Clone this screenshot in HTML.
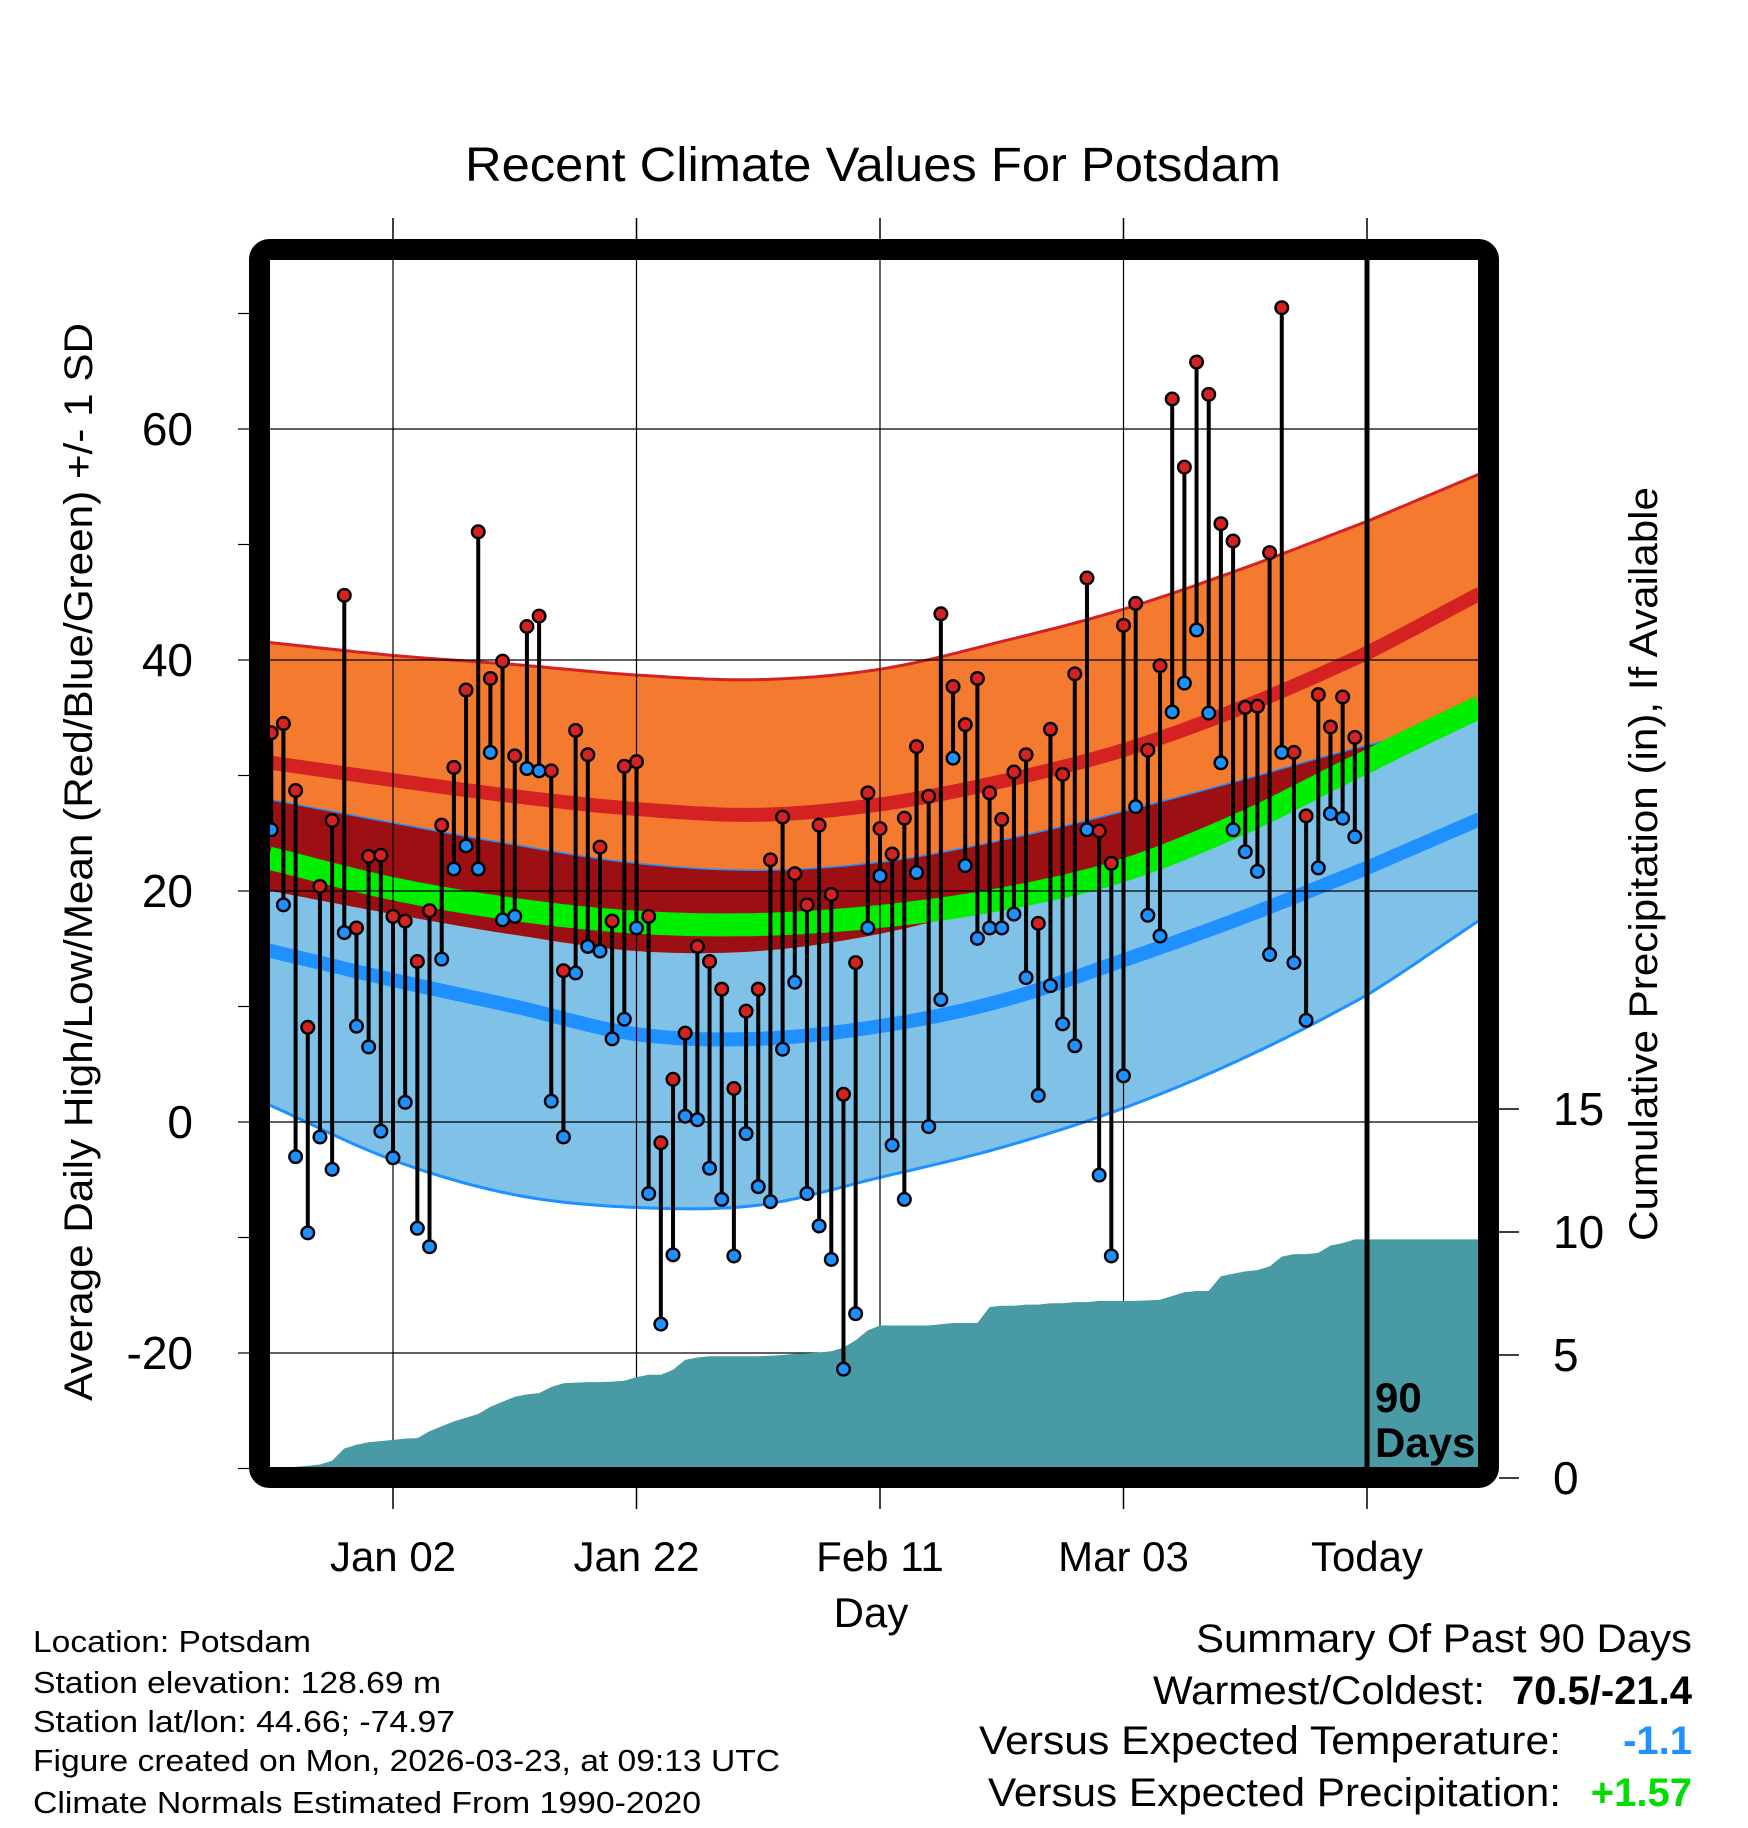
<!DOCTYPE html>
<html><head><meta charset="utf-8"><style>
html,body{margin:0;padding:0;background:#fff}
svg{display:block}
text{font-family:"Liberation Sans",sans-serif;fill:#000}
</style></head><body>
<svg id="chart" width="1748" height="1828" viewBox="0 0 1748 1828" xmlns="http://www.w3.org/2000/svg">
<defs><clipPath id="plotclip"><rect x="270" y="260" width="1208" height="1207"/></clipPath></defs>
<rect width="1748" height="1828" fill="#fff"/>
<text x="873" y="181" font-size="48" text-anchor="middle" textLength="816" lengthAdjust="spacingAndGlyphs">Recent Climate Values For Potsdam</text>
<g id="bands" clip-path="url(#plotclip)"></g>
<g id="grid" clip-path="url(#plotclip)"></g>
<g id="precip" clip-path="url(#plotclip)"></g>
<g id="marks" clip-path="url(#plotclip)"></g>
<g id="axes"></g>
<rect x="259.5" y="249.5" width="1229" height="1228" rx="10" fill="none" stroke="#000" stroke-width="21"/>
<text x="1375" y="1412" font-size="42" font-weight="bold">90</text>
<text x="1375" y="1457" font-size="42" font-weight="bold">Days</text>
<text x="871" y="1627" font-size="42" text-anchor="middle">Day</text>
<text transform="translate(92,862) rotate(-90)" font-size="40" text-anchor="middle" textLength="1078" lengthAdjust="spacingAndGlyphs">Average Daily High/Low/Mean (Red/Blue/Green) +/- 1 SD</text>
<text transform="translate(1657,864) rotate(-90)" font-size="40" text-anchor="middle" textLength="754" lengthAdjust="spacingAndGlyphs">Cumulative Precipitation (in), If Available</text>
<g font-size="31">
<text x="33" y="1652" textLength="278" lengthAdjust="spacingAndGlyphs">Location: Potsdam</text>
<text x="33" y="1693" textLength="408" lengthAdjust="spacingAndGlyphs">Station elevation: 128.69 m</text>
<text x="33" y="1732" textLength="422" lengthAdjust="spacingAndGlyphs">Station lat/lon: 44.66; -74.97</text>
<text x="33" y="1771" textLength="747" lengthAdjust="spacingAndGlyphs">Figure created on Mon, 2026-03-23, at 09:13 UTC</text>
<text x="33" y="1813" textLength="668" lengthAdjust="spacingAndGlyphs">Climate Normals Estimated From 1990-2020</text>
</g>
<g font-size="40">
<text x="1692" y="1652" text-anchor="end" textLength="496" lengthAdjust="spacingAndGlyphs">Summary Of Past 90 Days</text>
<text x="1153" y="1704" textLength="332" lengthAdjust="spacingAndGlyphs">Warmest/Coldest:</text>
<text x="1692" y="1704" text-anchor="end" font-weight="bold">70.5/-21.4</text>
<text x="979" y="1754" textLength="582" lengthAdjust="spacingAndGlyphs">Versus Expected Temperature:</text>
<text x="1692" y="1754" text-anchor="end" font-weight="bold" style="fill:#1e90ff">-1.1</text>
<text x="988" y="1806" textLength="573" lengthAdjust="spacingAndGlyphs">Versus Expected Precipitation:</text>
<text x="1692" y="1806" text-anchor="end" font-weight="bold" style="fill:#00dd00">+1.57</text>
</g>
</svg>
<script>
// Daily observations (Dec 23 .. Mar 22)
const highs=[33.7,34.5,28.7,8.2,20.4,26.1,45.6,16.8,23.0,23.1,17.8,17.4,13.9,18.3,25.7,30.7,37.4,51.1,38.4,39.9,31.7,42.9,43.8,30.4,13.1,33.9,31.8,23.8,17.4,30.8,31.2,17.8,-1.8,3.7,7.7,15.2,13.9,11.5,2.9,9.6,11.5,22.7,26.4,21.5,18.8,25.7,19.7,2.4,13.8,28.5,25.4,23.2,26.3,32.5,28.2,44.0,37.7,34.4,38.4,28.5,26.2,30.3,31.8,17.2,34.0,30.1,38.8,47.1,25.2,22.4,43.0,44.9,32.2,39.5,62.6,56.7,65.8,63.0,51.8,50.3,35.9,36.0,49.3,70.5,32.0,26.5,37.0,34.2,36.8,33.3];
const lows=[25.3,18.8,-3.0,-9.6,-1.3,-4.1,16.4,8.3,6.5,-0.8,-3.1,1.7,-9.2,-10.8,14.1,21.9,23.9,21.9,32.0,17.5,17.8,30.6,30.4,1.8,-1.3,12.9,15.2,14.8,7.2,8.9,16.8,-6.2,-17.5,-11.5,0.5,0.2,-4.0,-6.7,-11.6,-1.0,-5.6,-6.9,6.3,12.1,-6.2,-9.0,-11.9,-21.4,-16.6,16.8,21.3,-2.0,-6.7,21.6,-0.4,10.6,31.5,22.2,15.9,16.8,16.8,18.0,12.5,2.3,11.8,8.5,6.6,25.3,-4.6,-11.6,4.0,27.3,17.9,16.1,35.5,38.0,42.6,35.4,31.1,25.3,23.4,21.7,14.5,32.0,13.8,8.8,22.0,26.7,26.3,24.7];
const precip=[0.35,0.4,0.45,0.5,0.55,0.7,1.2,1.35,1.45,1.5,1.55,1.6,1.62,1.9,2.1,2.3,2.45,2.6,2.9,3.1,3.3,3.4,3.45,3.7,3.85,3.88,3.9,3.9,3.92,3.95,4.1,4.2,4.2,4.4,4.8,4.9,4.95,4.95,4.95,4.95,4.95,4.97,5.0,5.05,5.07,5.1,5.15,5.3,5.6,6.0,6.2,6.2,6.2,6.2,6.2,6.25,6.3,6.3,6.3,6.95,7.0,7.0,7.05,7.05,7.1,7.1,7.15,7.15,7.2,7.2,7.2,7.2,7.22,7.25,7.4,7.55,7.6,7.6,8.2,8.3,8.4,8.45,8.6,9.0,9.1,9.1,9.15,9.45,9.55,9.7];
// Normals at node days (0,10,...,90,99)
const nodeDays=[0,10,20,30,40,50,60,70,80,90,99];
const highPlusSD=[41.5,40.4,39.6,38.7,38.3,39.2,41.6,44.4,48,52,56];
const highAvg=[31.1,29.6,28.2,27.1,26.6,27.5,29.5,32.2,36,40.6,45.6];
const highMinusSD=[20,18,16.2,14.8,14.8,16.3,19,22.5,26.2,30.5,35.5];
const lowPlusSD=[27.9,25.9,24,22.4,21.8,22.5,24.4,26.9,29.7,32.6,34.8];
const meanAvg=[22.8,20.2,18.4,17.3,17.1,17.8,19.3,21.8,26,31.2,35.8];
const lowAvg=[14.8,12.3,10,7.6,7.2,8.3,10.5,14,17.8,22,26.1];
const lowMinusSD=[1.4,-3.3,-6.3,-7.4,-7.2,-4.8,-2.2,1.2,5.6,11,17.3];
const xTickDays=[10,30,50,70,90];
const xTickLabels=["Jan 02","Jan 22","Feb 11","Mar 03","Today"];
const yTicks=[-30,-20,-10,0,10,20,30,40,50,60,70];
const yLabels=[-20,0,20,40,60];
const pTicks=[0,5,10,15];

const NS="http://www.w3.org/2000/svg";
const xOf=d=>271.25+d*12.175;
const yT=v=>1122-v*11.55;
const yP=p=>1478-p*24.6;
function mk(tag,attrs,parent){const e=document.createElementNS(NS,tag);for(const k in attrs)e.setAttribute(k,attrs[k]);parent.appendChild(e);return e;}
function interp(arr,d){
  let i=0;while(i<nodeDays.length-2&&d>nodeDays[i+1])i++;
  const d0=nodeDays[i],d1=nodeDays[i+1],t=(d-d0)/(d1-d0);
  const p1=arr[i],p2=arr[i+1],p0=i>0?arr[i-1]:2*p1-p2,p3=i+2<arr.length?arr[i+2]:2*p2-p1;
  const t2=t*t,t3=t2*t;
  return 0.5*((2*p1)+(-p0+p2)*t+(2*p0-5*p1+4*p2-p3)*t2+(-p0+3*p1-3*p2+p3)*t3);
}
const ds=[];for(let d=-0.2;d<=99.6;d+=0.5)ds.push(d);
const curve=arr=>ds.map(d=>[xOf(d),yT(interp(arr,d))]);
const pts=a=>a.map(p=>p[0].toFixed(1)+","+p[1].toFixed(1)).join(" ");
const bands=document.getElementById('bands');
let e;
e=mk('polygon',{points:pts(curve(lowPlusSD).concat(curve(lowMinusSD).reverse())),fill:'#80c1e8'},bands);


e=mk('polygon',{points:pts(curve(highPlusSD).concat(curve(highMinusSD).reverse())),fill:'#f47a2f'},bands);


const ov=ds.map(d=>[xOf(d),yT(interp(lowPlusSD,d))]).concat(ds.map(d=>[xOf(d),yT(Math.min(interp(highMinusSD,d),interp(lowPlusSD,d)))]).reverse());
e=mk('polygon',{points:pts(ov),fill:'#9c1014'},bands);


e=mk('polyline',{points:pts(curve(highPlusSD)),fill:'none',stroke:'#d42222','stroke-width':3},bands);


e=mk('polyline',{points:pts(curve(lowMinusSD)),fill:'none',stroke:'#1e90ff','stroke-width':3},bands);


e=mk('polyline',{points:pts(curve(lowPlusSD)),fill:'none',stroke:'#1e90ff','stroke-width':1.5},bands);


e=mk('polyline',{points:pts(curve(meanAvg)),fill:'none',stroke:'#00ee00','stroke-width':23},bands);


e=mk('polyline',{points:pts(curve(highAvg)),fill:'none',stroke:'#d42222','stroke-width':14},bands);


e=mk('polyline',{points:pts(curve(lowAvg)),fill:'none',stroke:'#1e90ff','stroke-width':14},bands);



const grid=document.getElementById('grid');
yLabels.forEach(v=>{e=mk('line',{x1:270,x2:1478,y1:yT(v),y2:yT(v),stroke:'#000','stroke-width':1.2},grid);

});
xTickDays.forEach((d,i)=>{if(i===4)return;e=mk('line',{x1:xOf(d),x2:xOf(d),y1:260,y2:1467,stroke:'#000','stroke-width':1.2},grid);

});

const pg=document.getElementById('precip');
const pp=[[270,1480],[270,yP(precip[0])]];
precip.forEach((p,i)=>pp.push([xOf(i),yP(p)]));
pp.push([1480,yP(precip[precip.length-1])]);pp.push([1480,1480]);
e=mk('polygon',{points:pts(pp),fill:'#489aa4'},pg);



const marks=document.getElementById('marks');
e=mk('line',{x1:xOf(90),x2:xOf(90),y1:250,y2:1478,stroke:'#000','stroke-width':5},marks);


highs.forEach((h,i)=>{e=mk('line',{x1:xOf(i),x2:xOf(i),y1:yT(h),y2:yT(lows[i]),stroke:'#000','stroke-width':4},marks);

});
highs.forEach((h,i)=>{
e=mk('circle',{cx:xOf(i),cy:yT(h),r:6.3,fill:'#d42222',stroke:'#000','stroke-width':2.4},marks);


e=mk('circle',{cx:xOf(i),cy:yT(lows[i]),r:6.3,fill:'#1e90ff',stroke:'#000','stroke-width':2.4},marks);


});

const ax=document.getElementById('axes');
yTicks.forEach(v=>{e=mk('line',{x1:238,x2:250,y1:yT(v),y2:yT(v),stroke:'#000','stroke-width':1.2},ax);

});
yLabels.forEach(v=>{e=mk('text',{x:193,y:yT(v)+16,'font-size':46,'text-anchor':'end'},ax);e.textContent=v;

});
xTickDays.forEach((d,i)=>{
e=mk('line',{x1:xOf(d),x2:xOf(d),y1:218,y2:240,stroke:'#000','stroke-width':1.5},ax);


e=mk('line',{x1:xOf(d),x2:xOf(d),y1:1488,y2:1509,stroke:'#000','stroke-width':1.5},ax);


e=mk('text',{x:xOf(d),y:1571,'font-size':42,'text-anchor':'middle'},ax);e.textContent=xTickLabels[i];


});
pTicks.forEach(p=>{
e=mk('line',{x1:1499,x2:1519,y1:yP(p),y2:yP(p),stroke:'#000','stroke-width':1.5},ax);


e=mk('text',{x:1553,y:yP(p)+16,'font-size':46},ax);e.textContent=p;


});
</script>
</body></html>
